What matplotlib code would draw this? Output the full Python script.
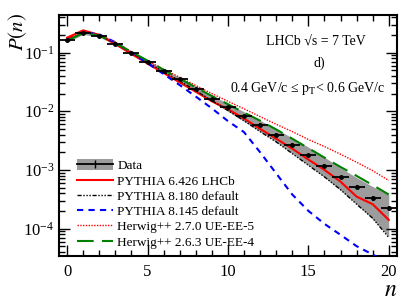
import numpy as np
import matplotlib
matplotlib.use("Agg")
import matplotlib.pyplot as plt
from matplotlib.patches import Patch
from matplotlib.lines import Line2D
from matplotlib.ticker import MultipleLocator, LogLocator, NullFormatter

plt.rcParams["font.family"] = ["Liberation Serif", "DejaVu Serif"]
plt.rcParams["mathtext.fontset"] = "stix"

# ===== data =====
n = np.arange(0, 21)

data = [0.162, 0.220, 0.195, 0.142, 0.099, 0.069, 0.048, 0.035, 0.0243, 0.0164, 0.0118,
        0.0083, 0.0059, 0.0040, 0.0027, 0.0018, 0.00117, 0.00075, 0.00051, 0.00033, 0.00022]
data_err = [0.004, 0.005, 0.005, 0.004, 0.003, 0.002, 0.0015, 0.001, 0.0008, 0.0006, 0.0005,
            0.0004, 0.0003, 0.0002, 0.00015, 0.0001, 0.00007, 0.00005, 0.00004, 0.00003, 0.00002]
band_lo = [0.150, 0.205, 0.185, 0.135, 0.094, 0.065, 0.045, 0.031, 0.0215, 0.0145, 0.0100,
           0.0067, 0.0045, 0.0030, 0.0019, 0.00120, 0.00075, 0.00045, 0.00026, 0.000145, 0.000072]
band_hi = [0.175, 0.235, 0.207, 0.150, 0.105, 0.074, 0.052, 0.038, 0.0270, 0.0185, 0.0136,
           0.0098, 0.0070, 0.0050, 0.0035, 0.00245, 0.00165, 0.00108, 0.00074, 0.00052, 0.00038]

py6_lhcb = [0.180, 0.240, 0.200, 0.140, 0.095, 0.065, 0.045, 0.031, 0.0215, 0.0148, 0.0108,
            0.0075, 0.0050, 0.0034, 0.0023, 0.0015, 0.00100, 0.00063, 0.00035, 0.00026, 0.00014]
py8_180 = [0.165, 0.225, 0.200, 0.145, 0.100, 0.069, 0.047, 0.033, 0.0225, 0.0152, 0.0103,
           0.0069, 0.0045, 0.0030, 0.0019, 0.0012, 0.00076, 0.00046, 0.00026, 0.00015, 0.000070]
py8_145 = [0.165, 0.225, 0.205, 0.150, 0.100, 0.066, 0.043, 0.028, 0.0178, 0.0112, 0.0068,
           0.0044, 0.0020, 0.00087, 0.00038, 0.00020, 0.00012, 0.000078, 0.000050, 0.000036, 0.000025]
hw270 = [0.170, 0.230, 0.205, 0.150, 0.104, 0.073, 0.052, 0.038, 0.0275, 0.0200, 0.0148,
         0.0110, 0.0081, 0.0060, 0.0045, 0.0033, 0.0025, 0.00185, 0.00135, 0.00097, 0.00066]
hw263 = [0.160, 0.215, 0.195, 0.145, 0.103, 0.073, 0.051, 0.036, 0.0255, 0.0182, 0.0132,
         0.0095, 0.0069, 0.0049, 0.0034, 0.00235, 0.00162, 0.00112, 0.00079, 0.00055, 0.00038]

fig = plt.figure(figsize=(4.19, 3.04), dpi=100)
ax = fig.add_axes([0.141, 0.158, 0.806, 0.793])

ax.fill_between(n, band_lo, band_hi, color="#9c9c9c", lw=0, zorder=1)
ax.plot(n, py6_lhcb, color="red", lw=1.5, zorder=3)
ax.plot(n, py8_180, color="black", lw=1.0, dashes=(3, 1.2, 1, 1.2, 1, 1.2, 1, 1.2), zorder=3)
ax.plot(n, py8_145, color="blue", lw=1.5, dashes=(3, 2.5), zorder=3)
ax.plot(n, hw270, color="red", lw=1.0, dashes=(1, 1), zorder=3)
ax.plot(n, hw263, color="green", lw=1.5, dashes=(8, 4), zorder=3)
ax.errorbar(n, data, xerr=0.5, yerr=data_err, fmt="o", color="black", ms=2.5,
            elinewidth=1.3, capsize=0, zorder=4)

ax.set_yscale("log")
ax.set_xlim(-0.5, 20.5)
ax.set_ylim(3.4e-5, 0.44)

ax.xaxis.set_major_locator(MultipleLocator(5))
ax.xaxis.set_minor_locator(MultipleLocator(1))
ax.yaxis.set_major_locator(LogLocator(base=10, numticks=10))
ax.yaxis.set_minor_locator(LogLocator(base=10, subs=np.arange(2, 10), numticks=20))
ax.yaxis.set_minor_formatter(NullFormatter())
ax.tick_params(which="both", direction="in", top=True, right=True, labelsize=12, width=1.0)
ax.tick_params(which="major", length=8)
ax.tick_params(which="minor", length=4)
ax.tick_params(axis="x", pad=6)
for s in ax.spines.values():
    s.set_linewidth(1.5)

ax.set_xlabel("$n$", fontsize=17, loc="right", labelpad=0)
ax.set_ylabel("$P(n)$", fontsize=15)
ax.yaxis.set_label_coords(-0.088, 0.93)

ax.text(0.76, 0.888, "LHCb \u221As = 7 TeV", transform=ax.transAxes, ha="center", va="center", fontsize=10)
ax.text(0.77, 0.80, "d)", transform=ax.transAxes, ha="center", va="center", fontsize=10)
ax.text(0.735, 0.695, "0.4 GeV/c \u2264 $\\mathrm{p_{T}}$< 0.6 GeV/c", transform=ax.transAxes,
        ha="center", va="center", fontsize=10)

handles = [
    (Patch(facecolor="#9c9c9c", edgecolor="none"),
     Line2D([], [], color="black", lw=1.3, marker="|", ms=6, mew=1.0)),
    Line2D([], [], color="red", lw=1.5),
    Line2D([], [], color="black", lw=1.0, dashes=(3, 1.2, 1, 1.2, 1, 1.2, 1, 1.2)),
    Line2D([], [], color="blue", lw=1.5, dashes=(3, 2.5)),
    Line2D([], [], color="red", lw=1.0, dashes=(1, 1)),
    Line2D([], [], color="green", lw=1.5, dashes=(8, 4)),
]
labels = ["Data", "PYTHIA 6.426 LHCb", "PYTHIA 8.180 default", "PYTHIA 8.145 default",
          "Herwig++ 2.7.0 UE-EE-5", "Herwig++ 2.6.3 UE-EE-4"]
ax.legend(handles, labels, loc="lower left", bbox_to_anchor=(0.053, 0.03), frameon=False,
          fontsize=9.5, handlelength=2.7, handleheight=0.9, labelspacing=0.17, handletextpad=0.35,
          borderaxespad=0, borderpad=0)

fig.savefig("out.png", dpi=100)
